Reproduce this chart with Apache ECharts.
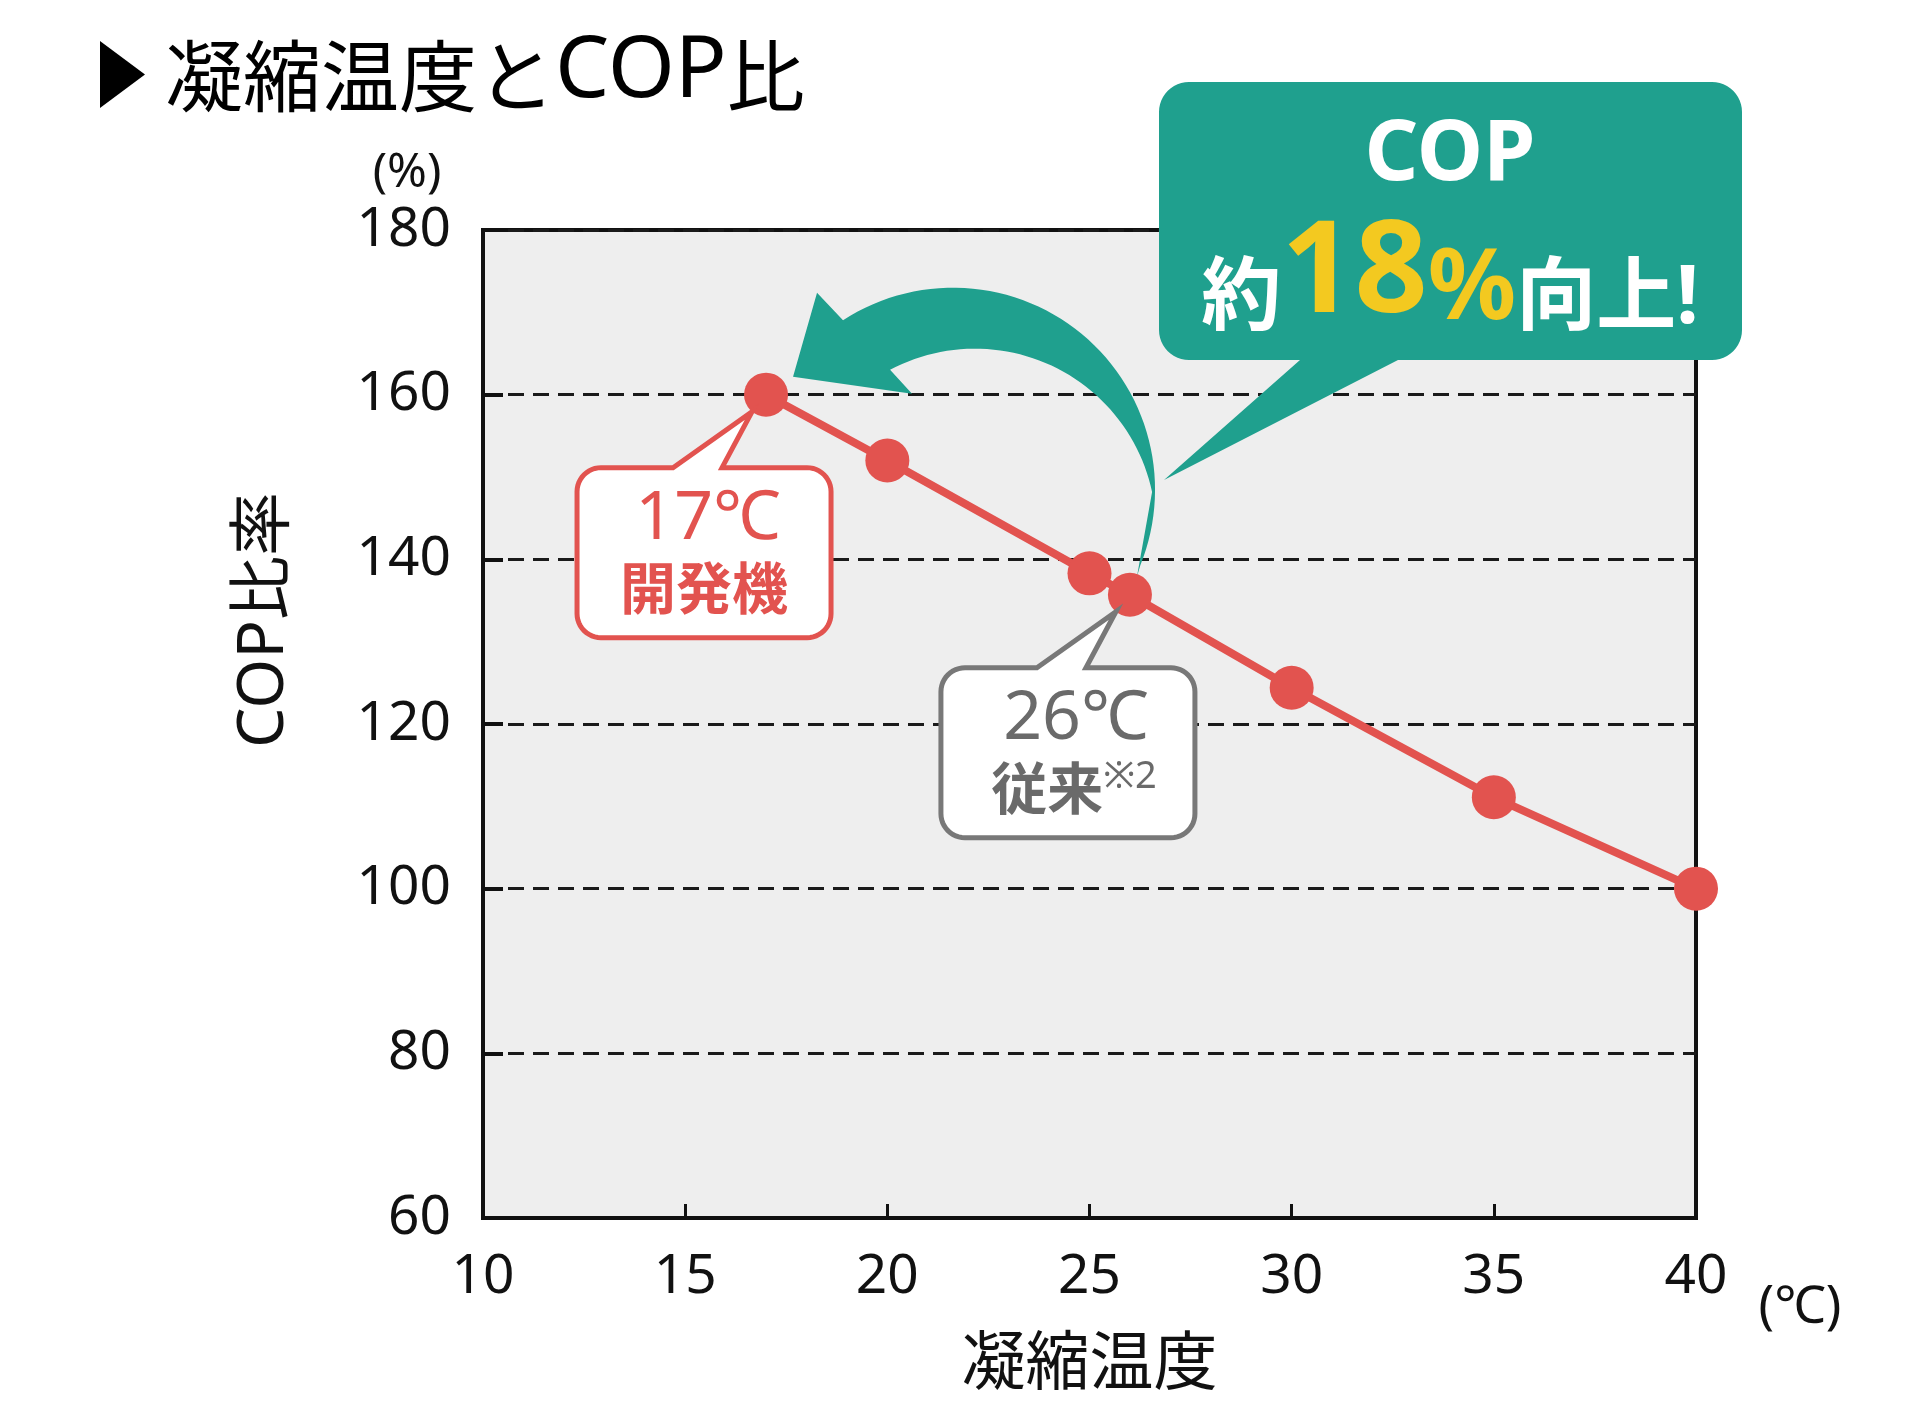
<!DOCTYPE html>
<html><head><meta charset="utf-8">
<script src="https://cdn.jsdelivr.net/npm/echarts@6/dist/echarts.min.js"></script>
<style>html,body{margin:0;padding:0;background:#fff}#c{width:1920px;height:1420px}</style>
</head><body><div id="c"></div>
<script>
// ---- data ----
const condensingTemps = [17, 20, 25, 26, 30, 35, 40];
const copRatios = [160, 152, 138.3, 135.7, 124.4, 111.1, 100];
const xTickValues = [10, 15, 20, 25, 30, 35, 40];
const yTickValues = [60, 80, 100, 120, 140, 160, 180];
const titleText = ['凝縮温度と', 'COP', '比'];
const xAxisName = '凝縮温度';
const yAxisName = 'COP比率';
const yUnit = '(%)';
const xUnit = '(℃)';
const devLabel = ['17℃', '開発機'];
const convLabel = ['26℃', '従来', '※2'];
const calloutText = ['COP', '約', '18', '%', '向上!'];
const devIndex = 0;   // 17℃ point
const convIndex = 3;  // 26℃ point

const FONT = "'Noto Sans', 'Noto Sans CJK JP', sans-serif";
const CJK = "'Noto Sans CJK JP', sans-serif";
const RED = '#e2534f';
const TEAL = '#1fa08e';
const YELLOW = '#f3c920';
const GRAY_T = '#6a6a6a';
const GRAY_B = '#787878';

const chart = echarts.init(document.getElementById('c'), null, {renderer: 'canvas'});

chart.setOption({
  animation: false,
  backgroundColor: '#ffffff',
  grid: {
    left: 483, right: 224, top: 230, bottom: 202,
    show: true, backgroundColor: '#eeeeee', borderColor: '#111', borderWidth: 4
  },
  xAxis: {
    type: 'value',
    min: xTickValues[0], max: xTickValues[xTickValues.length - 1],
    interval: xTickValues[1] - xTickValues[0],
    name: xAxisName, nameLocation: 'middle', nameGap: 110,
    nameTextStyle: {fontFamily: CJK, fontSize: 64, color: '#111'},
    axisLine: {show: true, onZero: false, lineStyle: {color: '#111', width: 4}},
    axisTick: {show: true, inside: true, length: 14, lineStyle: {color: '#111', width: 3}},
    axisLabel: {fontFamily: FONT, fontSize: 55, color: '#111', margin: 32},
    splitLine: {show: false}
  },
  yAxis: {
    type: 'value',
    min: yTickValues[0], max: yTickValues[yTickValues.length - 1],
    interval: yTickValues[1] - yTickValues[0],
    axisLine: {show: true, onZero: false, lineStyle: {color: '#111', width: 4}},
    axisTick: {show: true, inside: true, length: 20, lineStyle: {color: '#111', width: 4}},
    axisLabel: {fontFamily: FONT, fontSize: 55, color: '#111', margin: 32},
    splitLine: {show: true, lineStyle: {color: '#1a1a1a', width: 2.8, type: [16, 9]}}
  },
  series: [{
    type: 'line',
    z: 5,
    data: condensingTemps.map((t, i) => [t, copRatios[i]]),
    symbol: 'circle', symbolSize: 44,
    itemStyle: {color: RED},
    lineStyle: {color: RED, width: 8},
    silent: true
  }]
});

function arcPts(cx, cy, r, a0, a1, n) {
  const pts = [];
  for (let i = 0; i <= n; i++) {
    const a = (a0 + (a1 - a0) * i / n) * Math.PI / 180;
    pts.push([cx + r * Math.cos(a), cy + r * Math.sin(a)]);
  }
  return pts;
}

// rounded rectangle outline with a pointer tail (top or bottom)
function bubblePoints(x, y, w, h, r, tl, tr, tip, tailTop) {
  const pts = [];
  const add = arr => arr.forEach(q => pts.push(q));
  if (tailTop) { pts.push([tl, y]); pts.push(tip); pts.push([tr, y]); }
  add(arcPts(x + w - r, y + r, r, -90, 0, 12));
  add(arcPts(x + w - r, y + h - r, r, 0, 90, 12));
  if (!tailTop) { pts.push([tr, y + h]); pts.push(tip); pts.push([tl, y + h]); }
  add(arcPts(x + r, y + h - r, r, 90, 180, 12));
  add(arcPts(x + r, y + r, r, 180, 270, 12));
  return pts;
}

const pDev = chart.convertToPixel({gridIndex: 0}, [condensingTemps[devIndex], copRatios[devIndex]]);
const pConv = chart.convertToPixel({gridIndex: 0}, [condensingTemps[convIndex], copRatios[convIndex]]);

function pointBubble(p, stroke) {
  const bx = p[0] - 189, by = p[1] + 73;
  return {
    type: 'polygon', z: 8,
    shape: {points: bubblePoints(bx, by, 254, 170, 24, p[0] - 93, p[0] - 44, [p[0] - 14, p[1] + 17], true)},
    style: {fill: '#ffffff', stroke: stroke, lineWidth: 5, lineJoin: 'miter'}
  };
}

// curved arrow (from 26℃ point to 17℃ point)
const c1 = [pDev[0] + 187, pDev[1] + 95], r1 = 202;
const c2 = [pDev[0] + 209, pDev[1] + 135], r2 = 181;
const arrowPts = [];
arrowPts.push([pDev[0] + 27, pDev[1] - 18]);
arrowPts.push([pDev[0] + 51, pDev[1] - 102]);
arcPts(c1[0], c1[1], r1, -123, 22, 60).forEach(q => arrowPts.push(q));
arrowPts.push([pConv[0] + 7, pConv[1] - 18]);
arcPts(c2[0], c2[1], r2, -12, -118, 50).forEach(q => arrowPts.push(q));
arrowPts.push([pDev[0] + 146, pDev[1] - 1]);

const graphics = [
  // title
  {type: 'polygon', z: 10, shape: {points: [[100, 41], [145, 74.5], [100, 108]]}, style: {fill: '#000'}},
  {type: 'text', z: 10, x: 165, y: 68,
   style: {text: '{a|' + titleText[0] + '}{b|' + titleText[1] + '}{a|' + titleText[2] + '}',
     verticalAlign: 'middle', align: 'left', fill: '#000',
     rich: {
       a: {fontFamily: CJK, fontSize: 78, fill: '#000', verticalAlign: 'bottom', lineHeight: 90},
       b: {fontFamily: "'Noto Sans', sans-serif", fontSize: 86, fill: '#000', verticalAlign: 'bottom', lineHeight: 94}
     }}},
  // axis name (y) and units
  {type: 'text', z: 10, x: 265, y: 620, rotation: Math.PI / 2,
   style: {text: yAxisName, fontFamily: FONT, fontSize: 64, fill: '#111', align: 'center', verticalAlign: 'middle'}},
  {type: 'text', z: 10, x: 407, y: 173, style: {text: yUnit, fontFamily: FONT, fontSize: 48, fill: '#111', align: 'center', verticalAlign: 'middle'}},
  {type: 'text', z: 10, x: 1800, y: 1308, style: {text: xUnit, fontFamily: FONT, fontSize: 52, fill: '#111', align: 'center', verticalAlign: 'middle'}},
  // arrow
  {type: 'polygon', z: 1, shape: {points: arrowPts}, style: {fill: TEAL}},
  // point bubbles
  pointBubble(pDev, RED),
  {type: 'text', z: 9, x: pDev[0] - 58, y: pDev[1] + 125,
   style: {text: devLabel[0], fontFamily: FONT, fontSize: 68, fill: RED, align: 'center', verticalAlign: 'middle'}},
  {type: 'text', z: 9, x: pDev[0] - 62, y: pDev[1] + 193,
   style: {text: devLabel[1], fontFamily: CJK, fontWeight: 'bold', fontSize: 56, fill: RED, align: 'center', verticalAlign: 'middle'}},
  pointBubble(pConv, GRAY_B),
  {type: 'text', z: 9, x: pConv[0] - 54, y: pConv[1] + 125,
   style: {text: convLabel[0], fontFamily: FONT, fontSize: 68, fill: GRAY_T, align: 'center', verticalAlign: 'middle'}},
  {type: 'text', z: 9, x: pConv[0] - 56, y: pConv[1] + 193,
   style: {text: '{a|' + convLabel[1] + '}{b|' + convLabel[2] + '}', align: 'center', verticalAlign: 'middle',
     rich: {
       a: {fontFamily: CJK, fontWeight: 'bold', fontSize: 56, fill: GRAY_T, lineHeight: 60},
       b: {fontFamily: FONT, fontSize: 38, fill: GRAY_T, verticalAlign: 'top', lineHeight: 44}
     }}},
  // big callout
  {type: 'polygon', z: 12,
   shape: {points: bubblePoints(1159, 82, 583, 278, 30, 1300, 1398, [1164, 480], false)},
   style: {fill: TEAL}},
  {type: 'text', z: 13, x: 1450, y: 156,
   style: {text: calloutText[0], fontFamily: "'Noto Sans', sans-serif", fontWeight: 'bold', fontSize: 84, fill: '#fff', align: 'center', verticalAlign: 'middle'}},
  {type: 'text', z: 13, x: 1450, y: 340,
   style: {text: '{s|' + calloutText[1] + '}{n|' + calloutText[2] + '}{p|' + calloutText[3] + '}{s|' + calloutText[4] + '}',
     align: 'center', verticalAlign: 'bottom',
     rich: {
       s: {fontFamily: FONT, fontWeight: 'bold', fontSize: 80, fill: '#fff', verticalAlign: 'bottom', lineHeight: 94},
       n: {fontFamily: FONT, fontWeight: 'bold', fontSize: 128, fill: YELLOW, verticalAlign: 'bottom', lineHeight: 130},
       p: {fontFamily: FONT, fontWeight: 'bold', fontSize: 98, fill: YELLOW, verticalAlign: 'bottom', lineHeight: 108}
     }}}
];

chart.setOption({graphic: {elements: graphics}});
</script>
</body></html>
